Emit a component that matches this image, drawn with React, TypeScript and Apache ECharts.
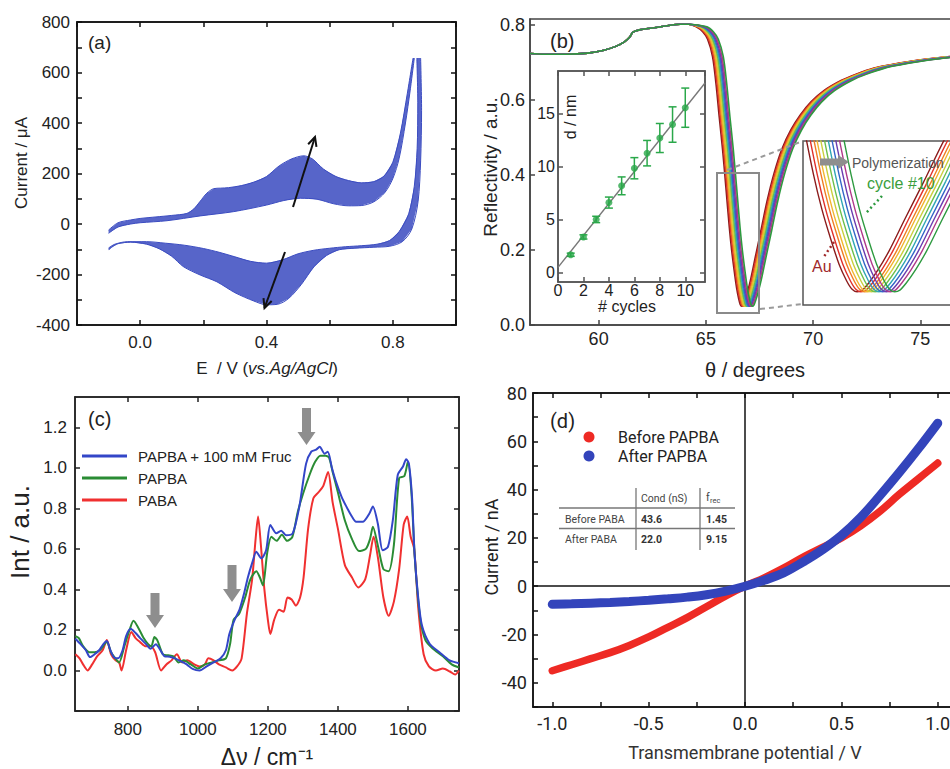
import { useEffect, useRef } from "react";
import * as echarts from "echarts";

// ---------------- (a) cyclic voltammetry: first / last cycle envelopes ----------------
const cvUpperOuter: number[][] = [[-0.1,-24],[-0.07,5],[-0.03,16],[0.0,22],[0.05,28],[0.1,34],[0.148,42],[0.17,60],[0.19,90],[0.211,122],[0.233,140],[0.254,142],[0.28,144],[0.32,152],[0.36,166],[0.40,188],[0.44,230],[0.48,258],[0.518,270],[0.545,258],[0.58,218],[0.62,188],[0.66,172],[0.70,163],[0.74,168],[0.772,190],[0.80,245],[0.824,360],[0.846,518],[0.864,657]];
const cvUpperInner: number[][] = [[-0.1,-37],[-0.07,-12],[-0.03,0],[0.0,5],[0.085,13],[0.19,32],[0.296,49],[0.40,75],[0.455,93],[0.507,102],[0.56,98],[0.613,80],[0.66,72],[0.70,73],[0.74,88],[0.775,125],[0.80,180],[0.82,260],[0.84,400],[0.855,530],[0.868,657]];
const cvLowerInner: number[][] = [[0.876,657],[0.879,480],[0.877,300],[0.868,150],[0.85,40],[0.82,-30],[0.79,-65],[0.75,-80],[0.70,-86],[0.65,-90],[0.60,-96],[0.55,-104],[0.50,-118],[0.45,-142],[0.40,-155],[0.35,-148],[0.30,-130],[0.25,-112],[0.20,-97],[0.14,-84],[0.08,-76],[0.02,-70],[-0.04,-70],[-0.08,-80],[-0.1,-95]];
const cvLowerOuter: number[][] = [[0.888,657],[0.891,450],[0.888,250],[0.88,90],[0.86,-20],[0.83,-70],[0.79,-88],[0.74,-92],[0.68,-96],[0.63,-102],[0.59,-125],[0.55,-170],[0.51,-240],[0.47,-295],[0.435,-318],[0.40,-320],[0.36,-305],[0.30,-272],[0.243,-229],[0.19,-202],[0.137,-169],[0.10,-128],[0.06,-98],[0.02,-80],[-0.03,-72],[-0.07,-78],[-0.09,-92],[-0.1,-103]];

// ---------------- (b) SPR reflectivity (Au curve) + per-cycle angle shift ----------------
const sprTheta = [56.8,57.5,58.5,59.5,60.2,60.8,61.2,61.45,61.6,61.9,62.5,63.2,63.8,64.2,64.55,64.85,65.08,65.31,65.47,65.62,65.78,65.93,66.09,66.2,66.32,66.43,66.53,66.6,66.67,66.74,66.82,66.95,67.1,67.3,67.56,67.85,68.18,68.55,68.96,69.4,69.9,70.5,71.3,72.0,72.84,73.6,74.4,75.4,76.4,77.5];
const sprR = [0.724,0.722,0.722,0.725,0.732,0.743,0.755,0.768,0.781,0.787,0.792,0.798,0.802,0.802,0.795,0.782,0.762,0.716,0.644,0.556,0.467,0.369,0.262,0.2,0.145,0.1,0.07,0.055,0.05,0.053,0.065,0.09,0.125,0.18,0.25,0.33,0.405,0.47,0.52,0.56,0.595,0.625,0.652,0.669,0.685,0.694,0.702,0.71,0.716,0.72];
const sprShift = [0, 0.05, 0.1, 0.14, 0.19, 0.24, 0.29, 0.34, 0.39, 0.44, 0.5];
const sprNames = ["Au","cycle 1","cycle 2","cycle 3","cycle 4","cycle 5","cycle 6","cycle 7","cycle 8","cycle 9","cycle #10"];
const sprColors = ["#8b1c1c","#e0302a","#f07c24","#f2b52e","#c9cf3e","#6cbf4a","#30a6b4","#3466c8","#6a3cb0","#b03a8a","#2e9a40"];

// inset: thickness vs cycles
const inCycles = [1,2,3,4,5,6,7,8,9,10];
const inThick = [1.67,3.35,5.0,6.59,8.17,9.83,11.25,12.68,13.95,15.54];
const inErr = [0.15,0.2,0.3,0.52,0.84,1.0,1.2,1.37,1.67,1.85];
const inFit: number[][] = [[0,0.48],[11.55,17.87]];

// ---------------- (c) Raman spectra ----------------
const ramanFruc: number[][] = [[650,0.157],[665,0.13],[680,0.1],[692,0.066],[705,0.08],[718,0.1],[730,0.13],[740,0.145],[750,0.1],[760,0.066],[772,0.06],[785,0.1],[795,0.17],[808,0.206],[822,0.185],[835,0.16],[852,0.13],[865,0.107],[880,0.13],[893,0.1],[905,0.07],[920,0.068],[935,0.06],[952,0.045],[968,0.03],[985,0.008],[1005,0.0],[1025,0.02],[1045,0.04],[1065,0.06],[1080,0.1],[1090,0.18],[1105,0.25],[1119,0.3],[1132,0.38],[1143,0.46],[1155,0.53],[1167,0.586],[1181,0.553],[1195,0.594],[1207,0.718],[1224,0.677],[1238,0.69],[1252,0.668],[1271,0.677],[1290,0.81],[1309,1.02],[1324,1.08],[1338,1.09],[1348,1.105],[1362,1.07],[1371,1.08],[1383,1.0],[1395,0.93],[1410,0.86],[1424,0.81],[1440,0.76],[1452,0.734],[1471,0.734],[1490,0.775],[1500,0.81],[1514,0.726],[1528,0.594],[1543,0.61],[1557,0.742],[1571,0.965],[1586,1.007],[1595,1.043],[1603,1.02],[1612,0.85],[1619,0.578],[1630,0.35],[1640,0.223],[1662,0.132],[1690,0.09],[1719,0.05],[1746,0.036]];
const ramanPAPBA: number[][] = [[650,0.17],[660,0.16],[672,0.12],[690,0.09],[705,0.09],[720,0.1],[740,0.14],[752,0.09],[762,0.065],[775,0.04],[790,0.12],[805,0.2],[816,0.245],[830,0.21],[845,0.16],[858,0.13],[867,0.12],[876,0.165],[884,0.15],[900,0.08],[915,0.075],[930,0.07],[945,0.04],[960,0.05],[980,0.03],[1000,0.01],[1020,0.03],[1040,0.04],[1060,0.05],[1080,0.06],[1092,0.13],[1102,0.25],[1118,0.28],[1135,0.36],[1150,0.45],[1167,0.49],[1177,0.46],[1186,0.42],[1198,0.58],[1210,0.66],[1225,0.64],[1240,0.67],[1255,0.64],[1270,0.66],[1285,0.78],[1300,0.87],[1320,0.97],[1335,1.03],[1350,1.06],[1365,1.06],[1375,1.05],[1385,0.98],[1400,0.88],[1420,0.74],[1440,0.65],[1460,0.59],[1480,0.6],[1492,0.65],[1500,0.71],[1515,0.61],[1530,0.5],[1545,0.49],[1560,0.62],[1575,0.95],[1590,0.96],[1600,1.03],[1610,0.88],[1620,0.55],[1635,0.26],[1650,0.15],[1670,0.11],[1700,0.07],[1725,0.03],[1746,0.015]];
const ramanPABA: number[][] = [[650,0.08],[662,0.06],[672,0.03],[685,0.0],[698,0.03],[712,0.07],[728,0.1],[740,0.15],[752,0.08],[765,0.05],[775,0.04],[782,0.0],[795,0.1],[810,0.19],[822,0.16],[835,0.14],[850,0.12],[865,0.12],[878,0.09],[895,0.0],[910,0.03],[925,0.05],[940,0.08],[955,0.04],[970,0.05],[990,0.03],[1005,0.02],[1020,0.03],[1030,0.06],[1045,0.05],[1060,0.03],[1080,0.015],[1098,0.0],[1112,0.02],[1125,0.06],[1140,0.28],[1155,0.45],[1165,0.65],[1172,0.76],[1180,0.62],[1190,0.4],[1200,0.25],[1207,0.18],[1218,0.25],[1232,0.3],[1245,0.29],[1256,0.36],[1268,0.35],[1280,0.32],[1292,0.36],[1302,0.46],[1315,0.7],[1330,0.85],[1345,0.88],[1358,0.91],[1372,0.98],[1385,0.83],[1400,0.7],[1420,0.52],[1440,0.46],[1458,0.41],[1478,0.45],[1492,0.57],[1502,0.66],[1515,0.55],[1530,0.36],[1545,0.27],[1560,0.34],[1575,0.5],[1588,0.72],[1598,0.76],[1608,0.66],[1618,0.6],[1630,0.3],[1645,0.08],[1660,0.02],[1680,0.0],[1700,0.01],[1720,-0.005],[1735,-0.02],[1746,0.0]];
const ramanLegend = ["PAPBA + 100 mM Fruc", "PAPBA", "PABA"];

// ---------------- (d) I-V curves ----------------
const ivV = [-1.0,-0.9,-0.8,-0.7,-0.6,-0.5,-0.4,-0.3,-0.2,-0.1,0,0.1,0.2,0.3,0.4,0.5,0.6,0.7,0.8,0.9,1.0];
const ivBefore = [-35,-32.5,-30,-27.5,-24.5,-21,-17,-13,-8.5,-4,0,3.5,7.5,12,16,20,25,31,38,44.5,51];
const ivAfter = [-7.5,-7.3,-7,-6.7,-6.3,-5.8,-5.2,-4.5,-3.5,-2,0,2.5,5.5,10,15,21,28.5,37.5,47,57,67.5];
const tableRows = [["Before PABA","43.6","1.45"],["After PABA","22.0","9.15"]];

const FONT = "'Liberation Sans', Arial, Helvetica, sans-serif";
const ROBOTO = "Roboto, 'Liberation Sans', Arial, sans-serif";

function axis(o: any) {
  const color = o.color || "#111";
  const a: any = {
    type: "value", gridIndex: o.grid, min: o.min, max: o.max, position: o.pos,
    show: o.show !== false,
    axisLine: { show: true, onZero: false, lineStyle: { color, width: 1.5 } },
    axisTick: { show: o.ticks !== false, inside: true, length: o.tickLen || 5, lineStyle: { color, width: 1.5 } },
    axisLabel: { show: !!o.labels, fontSize: o.fontSize || 16, fontFamily: o.family || FONT, color: "#222", margin: o.margin ?? 8, showMaxLabel: o.showMax ?? true, showMinLabel: true },
    splitLine: { show: false },
  };
  if (o.interval != null) a.interval = o.interval;
  if (o.formatter) a.axisLabel.formatter = o.formatter;
  if (o.tickValues) a.axisTick.customValues = o.tickValues;
  if (o.labelValues) a.axisLabel.customValues = o.labelValues;
  return a;
}

function txt(text: string, x: number, y: number, size: number, o: any = {}) {
  const style: any = {
    text, x: 0, y: 0, fontSize: size, fontFamily: o.family || FONT,
    fontWeight: o.weight || "normal", fontStyle: o.fstyle || "normal",
    fill: o.color || "#222", align: o.align || "left", verticalAlign: o.va || "middle",
  };
  if (o.rich) style.rich = o.rich;
  return { type: "text", x, y, rotation: o.rot || 0, style, silent: true, z: 100 };
}

function arrowLine(x1: number, y1: number, x2: number, y2: number, color: string, w: number, head: number) {
  const ang = Math.atan2(y2 - y1, x2 - x1);
  const a1 = ang + Math.PI - 0.45, a2 = ang + Math.PI + 0.45;
  return [
    { type: "line", shape: { x1, y1, x2, y2 }, style: { stroke: color, lineWidth: w }, silent: true, z: 100 },
    { type: "polyline", shape: { points: [[x2 + head * Math.cos(a1), y2 + head * Math.sin(a1)], [x2, y2], [x2 + head * Math.cos(a2), y2 + head * Math.sin(a2)]] }, style: { stroke: color, lineWidth: w, fill: "none" }, silent: true, z: 100 },
  ];
}

function downArrow(cx: number, y0: number, yh: number, y1: number) {
  return { type: "polygon", shape: { points: [[cx - 4.5, y0], [cx + 4.5, y0], [cx + 4.5, yh], [cx + 9, yh], [cx, y1], [cx - 9, yh], [cx - 4.5, yh]] }, style: { fill: "#8e8e8e" }, silent: true, z: 100 };
}

function sprCurve(i: number) {
  return sprTheta.map((t, k) => [t > 64.3 ? t + sprShift[i] : t, sprR[k]]);
}

function buildOption(): any {
  const upperBand = [...cvUpperOuter, ...cvUpperInner.slice().reverse()];
  const lowerBand = [...cvLowerOuter, ...cvLowerInner.slice().reverse()];
  const cvBlue = "#3b4cc0";
  const band = (pts: number[][]) => ({
    type: "custom", xAxisIndex: 0, yAxisIndex: 0, data: [[0, 0]], silent: true, z: 2,
    renderItem: (_p: any, api: any) => ({ type: "polygon", shape: { points: pts.map((p) => api.coord(p)) }, style: { fill: "rgba(59,76,192,0.86)", stroke: "none" } }),
  });
  const cvLine = (pts: number[][]) => ({ type: "line", xAxisIndex: 0, yAxisIndex: 0, data: pts, symbol: "none", smooth: 0.3, lineStyle: { color: cvBlue, width: 1 }, silent: true, z: 3 });

  const sprMain = sprColors.map((c, i) => ({ name: sprNames[i], type: "line", xAxisIndex: 2, yAxisIndex: 2, data: sprCurve(i), symbol: "none", smooth: 0.3, lineStyle: { color: c, width: 1.6 }, silent: true, z: 3 + i }));
  const sprZoom = sprColors.map((c, i) => ({ name: sprNames[i] + " zoom", type: "line", xAxisIndex: 5, yAxisIndex: 5, data: sprCurve(i), symbol: "none", smooth: 0.3, lineStyle: { color: c, width: 1.4 }, silent: true, z: 3 + i }));

  const green = "#2aa84a";
  const errorBars = {
    type: "custom", xAxisIndex: 3, yAxisIndex: 3, silent: true, z: 6,
    data: inCycles.map((c, i) => [c, inThick[i] - inErr[i], inThick[i] + inErr[i]]),
    encode: { x: 0, y: [1, 2] },
    renderItem: (_p: any, api: any) => {
      const x = api.value(0);
      const lo = api.coord([x, api.value(1)]);
      const hi = api.coord([x, api.value(2)]);
      const s = { stroke: green, lineWidth: 1.5 };
      return { type: "group", children: [
        { type: "line", shape: { x1: lo[0], y1: lo[1], x2: hi[0], y2: hi[1] }, style: s },
        { type: "line", shape: { x1: lo[0] - 4, y1: lo[1], x2: lo[0] + 4, y2: lo[1] }, style: s },
        { type: "line", shape: { x1: hi[0] - 4, y1: hi[1], x2: hi[0] + 4, y2: hi[1] }, style: s },
      ] };
    },
  };

  const ramanColors = ["#3346c8", "#2a8c34", "#f03030"];
  const f1 = (v: number) => v.toFixed(1);

  const graphic: any[] = [
    // (a)
    txt("(a)", 88, 42, 19),
    ...arrowLine(293, 207, 315, 137, "#111", 2, 10),
    ...arrowLine(285, 252, 264.5, 308, "#111", 2, 10),
    txt("Current / μA", 21, 163, 17, { rot: Math.PI / 2, align: "center" }),
    txt("E  / V ({i|vs.Ag/AgCl})", 267, 368, 17, { align: "center", rich: { i: { fontStyle: "italic", fontSize: 17, fontFamily: FONT, fill: "#222" } } }),
    // (b)
    txt("(b)", 550, 41, 20),
    txt("Reflectivity / a.u.", 490, 167, 19, { rot: Math.PI / 2, align: "center" }),
    txt("θ / degrees", 755, 370, 20, { align: "center" }),
    txt("d / nm", 570, 117, 16, { rot: Math.PI / 2, align: "center" }),
    txt("# cycles", 627, 306, 16, { align: "center" }),
    { type: "rect", shape: { x: 717, y: 173, width: 42, height: 140 }, style: { stroke: "#8a8a8a", lineWidth: 2, fill: "none" }, silent: true, z: 90 },
    { type: "line", shape: { x1: 727, y1: 170, x2: 803, y2: 141 }, style: { stroke: "#9a9a9a", lineWidth: 2, lineDash: [5, 4] }, silent: true, z: 90 },
    { type: "line", shape: { x1: 760, y1: 309, x2: 803, y2: 304 }, style: { stroke: "#9a9a9a", lineWidth: 2, lineDash: [5, 4] }, silent: true, z: 90 },
    { type: "polygon", shape: { points: [[820, 158.5], [838, 158.5], [838, 155], [849, 162], [838, 169], [838, 165.5], [820, 165.5]] }, style: { fill: "#8e8e8e" }, silent: true, z: 100 },
    txt("Polymerization", 852, 163, 14, { color: "#555" }),
    txt("cycle #10", 867, 183, 16, { color: "#3a9e3c" }),
    txt("Au", 812, 266, 16, { color: "#a0282a" }),
    { type: "line", shape: { x1: 882, y1: 196, x2: 866, y2: 213 }, style: { stroke: "#2e9a40", lineWidth: 2.5, lineDash: [2, 3] }, silent: true, z: 100 },
    { type: "line", shape: { x1: 834, y1: 242, x2: 823, y2: 258 }, style: { stroke: "#a0282a", lineWidth: 2.5, lineDash: [2, 3] }, silent: true, z: 100 },
    // (c)
    txt("(c)", 88, 419, 20),
    ...ramanLegend.map((n, i) => ({ type: "line", shape: { x1: 82, y1: 456 + i * 22, x2: 127, y2: 456 + i * 22 }, style: { stroke: ramanColors[i], lineWidth: 3 }, silent: true, z: 100 })),
    ...ramanLegend.map((n, i) => txt(n, 138, 456 + i * 22, 15)),
    downArrow(155, 593, 615, 628),
    downArrow(232, 565, 589, 602),
    downArrow(306.5, 408, 432, 445),
    txt("Int / a.u.", 20, 532, 26, { rot: Math.PI / 2, align: "center" }),
    txt("Δν / cm⁻¹", 267, 757, 23, { align: "center" }),
    // (d)
    txt("(d)", 550, 421, 20, { family: ROBOTO }),
    { type: "circle", shape: { cx: 589, cy: 437, r: 5.5 }, style: { fill: "#ee2a24" }, silent: true, z: 100 },
    { type: "circle", shape: { cx: 589, cy: 456, r: 5.5 }, style: { fill: "#3344bb" }, silent: true, z: 100 },
    txt("Before PAPBA", 618, 437, 16, { family: ROBOTO }),
    txt("After PAPBA", 618, 456, 16, { family: ROBOTO }),
    { type: "line", shape: { x1: 559, y1: 508, x2: 735, y2: 508 }, style: { stroke: "#777", lineWidth: 1.3 }, silent: true, z: 100 },
    { type: "line", shape: { x1: 559, y1: 528.5, x2: 735, y2: 528.5 }, style: { stroke: "#777", lineWidth: 1.3 }, silent: true, z: 100 },
    { type: "line", shape: { x1: 636, y1: 488, x2: 636, y2: 550 }, style: { stroke: "#777", lineWidth: 1.3 }, silent: true, z: 100 },
    { type: "line", shape: { x1: 700, y1: 488, x2: 700, y2: 550 }, style: { stroke: "#777", lineWidth: 1.3 }, silent: true, z: 100 },
    txt("Cond (nS)", 641, 498, 10.5, { family: ROBOTO, color: "#444" }),
    txt("f", 706, 497, 10.5, { family: ROBOTO, color: "#444" }),
    txt("rec", 710, 500, 7.5, { family: ROBOTO, color: "#444" }),
    ...tableRows.flatMap((r, i) => [
      txt(r[0], 565, 519 + i * 20, 10.5, { family: ROBOTO, color: "#444" }),
      txt(r[1], 641, 519 + i * 20, 10.5, { family: ROBOTO, color: "#333", weight: "bold" }),
      txt(r[2], 706, 519 + i * 20, 10.5, { family: ROBOTO, color: "#333", weight: "bold" }),
    ]),
    txt("Current / nA", 491, 547, 18, { rot: Math.PI / 2, align: "center", family: ROBOTO }),
    txt("Transmembrane potential / V", 745, 752, 18, { align: "center", family: ROBOTO, color: "#333" }),
  ];

  return {
    animation: false,
    backgroundColor: "#fff",
    grid: [
      { left: 77, top: 22, width: 379, height: 303, show: true, borderColor: "#111", borderWidth: 1.5, outerBoundsMode: "none" },
      { left: 530, top: 19, width: 444, height: 306, show: true, borderColor: "#444", borderWidth: 1.5, outerBoundsMode: "none" },
      { left: 558, top: 71, width: 147, height: 211, show: true, borderColor: "#555", borderWidth: 1.5, backgroundColor: "#fff", outerBoundsMode: "none" },
      { left: 803, top: 141, width: 160, height: 164, show: true, borderColor: "#555", borderWidth: 1.5, backgroundColor: "#fff", outerBoundsMode: "none" },
      { left: 75, top: 397, width: 384, height: 314, show: true, borderColor: "#222", borderWidth: 1.5, outerBoundsMode: "none" },
      { left: 533, top: 393, width: 424, height: 314, show: true, borderColor: "#111", borderWidth: 1.5, outerBoundsMode: "none" },
    ],
    xAxis: [
      axis({ grid: 0, min: -0.2, max: 1.0, pos: "bottom", interval: 0.2, labels: true, fontSize: 17, margin: 9, formatter: (v: number) => (Math.abs(Math.round(v * 10)) % 4 === 0 ? f1(v) : "") }),
      axis({ grid: 0, min: -0.2, max: 1.0, pos: "top", interval: 0.2 }),
      axis({ grid: 1, min: 56.8, max: 77.5, pos: "bottom", labels: true, fontSize: 18, margin: 5, color: "#444", tickValues: [60, 65, 70, 75], labelValues: [60, 65, 70, 75], formatter: (v: number) => String(Math.round(v)) }),
      axis({ grid: 2, min: 0, max: 11.55, pos: "bottom", interval: 2, labels: true, fontSize: 16, margin: 0, color: "#555", showMax: false, formatter: (v: number) => (Math.abs(v % 2) < 1e-6 ? String(Math.round(v)) : "") }),
      axis({ grid: 2, min: 0, max: 11.55, pos: "top", interval: 2, color: "#555" }),
      axis({ grid: 3, min: 65.95, max: 68.08, pos: "bottom", show: false }),
      axis({ grid: 4, min: 649, max: 1746, pos: "bottom", labels: true, fontSize: 17, margin: 10, color: "#222", tickValues: [800, 1000, 1200, 1400, 1600], labelValues: [800, 1000, 1200, 1400, 1600], formatter: (v: number) => String(Math.round(v)) }),
      axis({ grid: 4, min: 649, max: 1746, pos: "top", color: "#222", tickValues: [800, 1000, 1200, 1400, 1600] }),
      axis({ grid: 5, min: -1.1, max: 1.1, pos: "bottom", labels: true, fontSize: 18, family: ROBOTO, margin: 7, tickValues: [-1, -0.75, -0.5, -0.25, 0, 0.25, 0.5, 0.75, 1], labelValues: [-1, -0.5, 0, 0.5, 1], formatter: (v: number) => f1(v) }),
      axis({ grid: 5, min: -1.1, max: 1.1, pos: "top", tickValues: [-1, -0.75, -0.5, -0.25, 0, 0.25, 0.5, 0.75, 1] }),
    ],
    yAxis: [
      axis({ grid: 0, min: -400, max: 800, pos: "left", interval: 100, labels: true, fontSize: 17, margin: 7, formatter: (v: number) => (Math.round(v) % 200 === 0 ? String(Math.round(v)) : "") }),
      axis({ grid: 0, min: -400, max: 800, pos: "right", interval: 100 }),
      axis({ grid: 1, min: 0, max: 0.816, pos: "left", interval: 0.2, labels: true, fontSize: 18, margin: 5, color: "#444", showMax: false, formatter: (v: number) => (Math.abs(v * 5 - Math.round(v * 5)) < 1e-6 ? f1(v) : "") }),
      axis({ grid: 2, min: -0.9, max: 19, pos: "left", labels: true, fontSize: 16, margin: 3, color: "#555", tickValues: [0, 5, 10, 15], labelValues: [0, 5, 10, 15], formatter: (v: number) => String(Math.round(v)) }),
      axis({ grid: 2, min: -0.9, max: 19, pos: "right", color: "#555", tickValues: [0, 5, 10, 15] }),
      axis({ grid: 3, min: 0.026, max: 0.323, pos: "left", show: false }),
      axis({ grid: 4, min: -0.2, max: 1.35, pos: "left", interval: 0.2, labels: true, fontSize: 17, margin: 8, color: "#222", showMax: false, formatter: (v: number) => (v > -0.01 && Math.abs(v * 5 - Math.round(v * 5)) < 1e-6 ? f1(v) : "") }),
      axis({ grid: 4, min: -0.2, max: 1.35, pos: "right", interval: 0.2, color: "#222" }),
      axis({ grid: 5, min: -50, max: 80, pos: "left", interval: 10, labels: true, fontSize: 18, family: ROBOTO, margin: 6, formatter: (v: number) => (Math.round(v) % 20 === 0 && v > -45 ? String(Math.round(v)) : "") }),
    ],
    series: [
      band(upperBand), band(lowerBand),
      cvLine(cvUpperOuter), cvLine(cvUpperInner), cvLine(cvLowerInner), cvLine(cvLowerOuter),
      ...sprMain,
      ...sprZoom,
      { type: "line", xAxisIndex: 3, yAxisIndex: 3, data: inFit, symbol: "none", lineStyle: { color: "#777", width: 1.4 }, silent: true, z: 5 },
      errorBars,
      { type: "scatter", xAxisIndex: 3, yAxisIndex: 3, data: inCycles.map((c, i) => [c, inThick[i]]), symbolSize: 7, itemStyle: { color: green }, silent: true, z: 7 },
      { name: "PABA", type: "line", xAxisIndex: 6, yAxisIndex: 6, data: ramanPABA, symbol: "none", smooth: 0.25, lineStyle: { color: ramanColors[2], width: 2 }, silent: true, z: 3 },
      { name: "PAPBA", type: "line", xAxisIndex: 6, yAxisIndex: 6, data: ramanPAPBA, symbol: "none", smooth: 0.25, lineStyle: { color: ramanColors[1], width: 2 }, silent: true, z: 4 },
      { name: "PAPBA + 100 mM Fruc", type: "line", xAxisIndex: 6, yAxisIndex: 6, data: ramanFruc, symbol: "none", smooth: 0.25, lineStyle: { color: ramanColors[0], width: 2 }, silent: true, z: 5 },
      { name: "Before PAPBA", type: "line", xAxisIndex: 8, yAxisIndex: 8, data: ivV.map((v, i) => [v, ivBefore[i]]), symbol: "none", smooth: 0.4, lineStyle: { color: "#ee2a24", width: 7.5, cap: "round" }, silent: true, z: 4,
        markLine: { silent: true, symbol: "none", label: { show: false }, lineStyle: { color: "#111", width: 1.5, type: "solid" }, data: [{ xAxis: 0 }, { yAxis: 0 }] } },
      { name: "After PAPBA", type: "line", xAxisIndex: 8, yAxisIndex: 8, data: ivV.map((v, i) => [v, ivAfter[i]]), symbol: "none", smooth: 0.4, lineStyle: { color: "#3344bb", width: 9, cap: "round" }, silent: true, z: 5 },
    ],
    graphic,
  };
}

export default function App() {
  const ref = useRef<HTMLDivElement>(null);
  useEffect(() => {
    if (!ref.current) return;
    const chart = echarts.init(ref.current, null, { renderer: "svg" });
    chart.setOption(buildOption());
    return () => chart.dispose();
  }, []);
  return <div ref={ref} style={{ position: "fixed", left: 0, top: 0, width: 950, height: 769, background: "#fff" }} />;
}
